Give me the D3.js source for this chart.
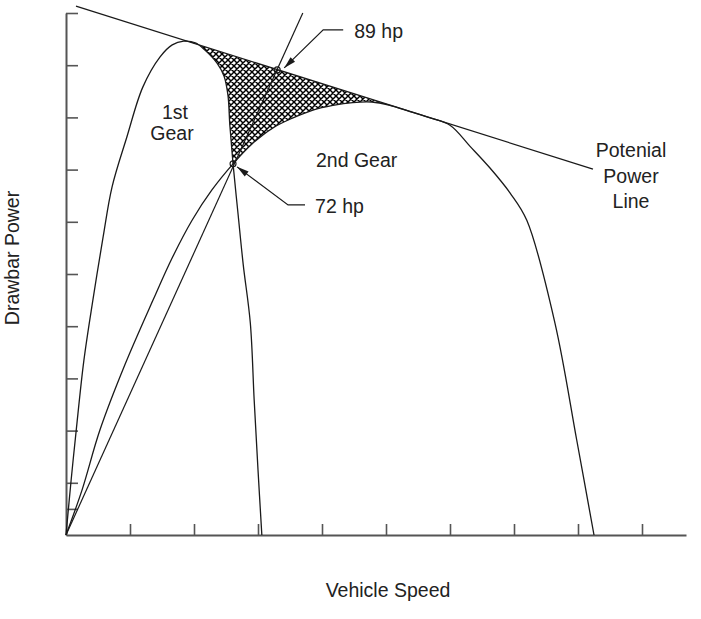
<!DOCTYPE html>
<html>
<head>
<meta charset="utf-8">
<script src="https://cdn.jsdelivr.net/npm/d3@7"></script>
<style>
  html, body { margin: 0; padding: 0; background: #fff; }
  svg { display: block; font-family: "Liberation Sans", Arial, Helvetica, sans-serif; }
</style>
</head>
<body>
<svg id="chart" width="701" height="619"></svg>
<script>
// ---- data (speed in tick units, power in hp) ----
const xTicks = [1, 2, 3, 4, 5, 6, 7, 8, 9];
const yTicks = [5, 10, 20, 30, 40, 50, 60, 70, 80, 90, 100];

const gear1Speed = [0, 0.08, 0.16, 0.28, 0.42, 0.58, 0.72, 0.95, 1.20, 1.47, 1.66, 1.84, 2.02, 2.17, 2.36, 2.47, 2.53, 2.56, 2.61, 2.69, 2.77, 2.88, 2.94, 3.00, 3.06];
const gear1Power = [0, 10.5, 20.1, 33.5, 45.0, 57.1, 66.7, 76.2, 85.8, 91.6, 93.9, 94.6, 94.3, 92.9, 90.4, 87.9, 84.3, 78.5, 71.1, 61.3, 51.7, 40.6, 25.9, 12.5, 0];

const gear2Speed = [0, 0.25, 0.53, 0.92, 1.36, 1.66, 1.97, 2.28, 2.61, 2.906, 3.234, 3.547, 3.859, 4.17, 4.48, 4.78, 5.06, 5.375, 5.69, 6.0, 6.31, 6.625, 6.94, 7.20, 7.64, 7.98, 8.25];
const gear2Power = [0, 8.6, 20.1, 32.6, 45.0, 53.1, 60.3, 66.1, 71.1, 74.9, 78.0, 79.9, 81.4, 82.3, 82.85, 82.95, 82.3, 81.1, 79.9, 78.5, 74.5, 70.3, 65.5, 60.3, 40.6, 18.2, 0];

const potentialSpeed = [0.156, 8.234];
const potentialPower = [101.3, 70.1];

const raySpeed = [0, 3.70];      // line through origin
const rayPower = [0, 100];

const markSpeed = [2.61, 3.30];
const markPower = [71.1, 89.1];
const markLabels = ["72 hp", "89 hp"];

const gearLabels = ["1st", "Gear", "2nd Gear"];
const potentialLabel = ["Potenial", "Power", "Line"];
const xTitle = "Vehicle Speed";
const yTitle = "Drawbar Power";

// ---- setup ----
const svg = d3.select("#chart");
const x = d3.scaleLinear().domain([0, 9.6875]).range([66, 686]);
const y = d3.scaleLinear().domain([0, 100]).range([535, 13]);

const zip = (a, b) => a.map((v, i) => [v, b[i]]);
const gear1 = zip(gear1Speed, gear1Power);
const gear2 = zip(gear2Speed, gear2Power);
const potential = zip(potentialSpeed, potentialPower);
const ray = zip(raySpeed, rayPower);

const curveLine = d3.line().x(d => x(d[0])).y(d => y(d[1])).curve(d3.curveCatmullRom.alpha(0.5));
const straight = d3.line().x(d => x(d[0])).y(d => y(d[1]));

// hatch pattern
const defs = svg.append("defs");
const pat = defs.append("pattern").attr("id", "hatch")
  .attr("patternUnits", "userSpaceOnUse").attr("width", 6).attr("height", 6);
pat.append("path")
  .attr("d", "M-1,1 L1,-1 M0,6 L6,0 M5,7 L7,5 M-1,5 L1,7 M0,0 L6,6 M5,-1 L7,1")
  .attr("stroke", "#000").attr("stroke-width", 1.45).attr("fill", "none");

// ---- hatched region ----
const potAt = s => potentialPower[0] + (potentialPower[1] - potentialPower[0]) * (s - potentialSpeed[0]) / (potentialSpeed[1] - potentialSpeed[0]);
const peakIdx = 11;       // 1st gear tangent point
const crossIdx1 = 18;     // 1st gear at intersection
const crossIdx2 = 8;      // 2nd gear at intersection
const tangIdx2 = 16;      // 2nd gear tangent point
const topEdge = [[gear1Speed[peakIdx], potAt(gear1Speed[peakIdx])], [gear2Speed[tangIdx2], potAt(gear2Speed[tangIdx2])]];
const g2part = gear2.slice(crossIdx2, tangIdx2 + 1).reverse();
const g1part = gear1.slice(peakIdx, crossIdx1 + 1).reverse();
const hatchPath = straight(topEdge) +
  curveLine(g2part).replace(/^M/, "L") +
  curveLine(g1part).replace(/^M/, "L") + "Z";
svg.append("path").attr("d", hatchPath).attr("fill", "url(#hatch)").attr("stroke", "none");

// ---- axes ----
const axisColor = "#555";
const gx = svg.append("g").attr("transform", `translate(0,${y(0)})`)
  .call(d3.axisBottom(x).tickValues(xTicks).tickSizeInner(-11).tickSizeOuter(0).tickFormat(""));
const gy = svg.append("g").attr("transform", `translate(${x(0)},0)`)
  .call(d3.axisLeft(y).tickValues(yTicks).tickSizeInner(-12).tickSizeOuter(0).tickFormat(""));
[gx, gy].forEach(g => {
  g.select(".domain").attr("stroke", axisColor).attr("stroke-width", 2);
  g.selectAll(".tick line").attr("stroke", axisColor).attr("stroke-width", 1.6);
});

// ---- curves ----
const lineColor = "#1a1a1a";
svg.append("path").attr("d", curveLine(gear1)).attr("fill", "none").attr("stroke", lineColor).attr("stroke-width", 1.3);
svg.append("path").attr("d", curveLine(gear2)).attr("fill", "none").attr("stroke", lineColor).attr("stroke-width", 1.3);
svg.append("path").attr("d", straight(potential)).attr("fill", "none").attr("stroke", lineColor).attr("stroke-width", 1.3);
svg.append("path").attr("d", straight(ray)).attr("fill", "none").attr("stroke", lineColor).attr("stroke-width", 1.2);

// ---- marks & callouts ----
function arrow(tip, from) {
  const dx = from[0] - tip[0], dy = from[1] - tip[1];
  const L = Math.hypot(dx, dy), ux = dx / L, uy = dy / L;
  const len = 12, w = 3.2;
  const bx = tip[0] + ux * len, by = tip[1] + uy * len;
  return `M${tip[0]},${tip[1]} L${bx - uy * w},${by + ux * w} L${bx + uy * w},${by - ux * w} Z`;
}
const callouts = [
  { tip: [4, 3], elbow: [55, 41], end: [72, 41], tx: 82, ty: 49 },
  { tip: [7, -2], elbow: [46, -40], end: [66, -40], tx: 77, ty: -32 }
];
markSpeed.forEach((s, i) => {
  const px = x(s), py = y(markPower[i]);
  const c = callouts[i];
  svg.append("circle").attr("cx", px).attr("cy", py).attr("r", 3)
    .attr("fill", "none").attr("stroke", lineColor).attr("stroke-width", 1.1);
  const tip = [px + c.tip[0], py + c.tip[1]];
  const elbow = [px + c.elbow[0], py + c.elbow[1]];
  const end = [px + c.end[0], py + c.end[1]];
  svg.append("path").attr("d", `M${end[0]},${end[1]} L${elbow[0]},${elbow[1]} L${tip[0]},${tip[1]}`)
    .attr("fill", "none").attr("stroke", lineColor).attr("stroke-width", 1.2);
  svg.append("path").attr("d", arrow(tip, elbow)).attr("fill", lineColor);
  svg.append("text").attr("x", px + c.tx).attr("y", py + c.ty)
    .attr("font-size", 19.5).attr("fill", "#222").text(markLabels[i]);
});

// ---- text labels ----
const fs = 19.5;
const txt = (t, px, py, anchor) => svg.append("text").attr("x", px).attr("y", py)
  .attr("text-anchor", anchor || "middle").attr("font-size", fs).attr("fill", "#222").text(t);
txt(gearLabels[0], 175, 119);
txt(gearLabels[1], 172, 140);
txt(gearLabels[2], 316, 167, "start");
potentialLabel.forEach((t, i) => txt(t, 631, 157 + i * 25.5));
txt(xTitle, 388, 597);
svg.append("text").attr("transform", "translate(19,258) rotate(-90)")
  .attr("text-anchor", "middle").attr("font-size", fs).attr("fill", "#222").text(yTitle);
</script>
</body>
</html>
